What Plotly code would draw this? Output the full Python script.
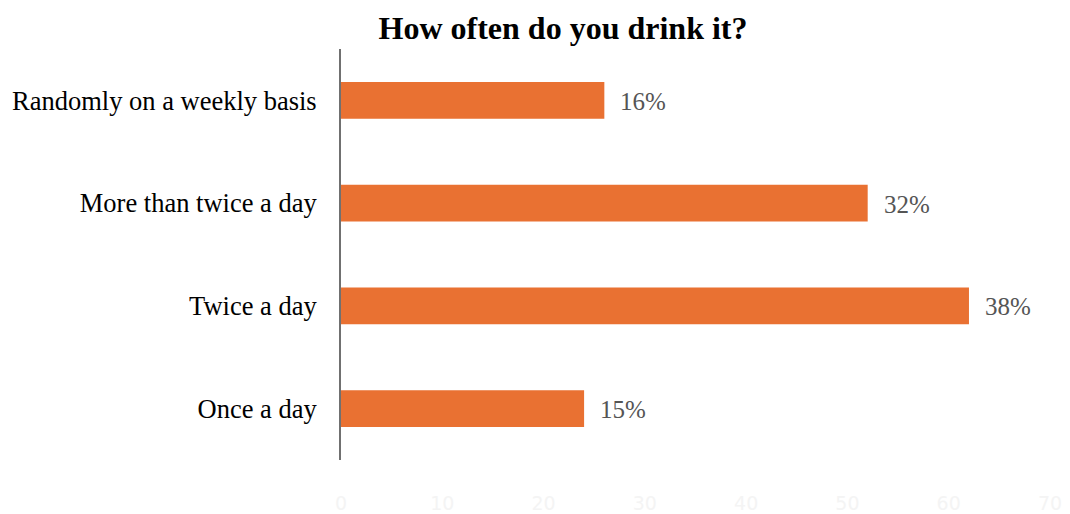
import plotly.graph_objects as go

# Survey answers (bottom to top as drawn) and respondent counts
categories = ["Once a day", "Twice a day", "More than twice a day", "Randomly on a weekly basis"]
counts = [24, 62, 52, 26]
x_ticks = [0, 10, 20, 30, 40, 50, 60, 70]

total = sum(counts)
pct_labels = [f"{round(c / total * 100)}%" for c in counts]

BAR_COLOR = "#E97132"
SERIF = "Liberation Serif, Times New Roman, serif"

fig = go.Figure(
    go.Bar(
        x=counts,
        y=categories,
        orientation="h",
        marker=dict(color=BAR_COLOR, line=dict(width=0)),
        width=0.36,
        hoverinfo="skip",
    )
)

# Percentage labels placed just past each bar end
for cat, c, lab in zip(categories, counts, pct_labels):
    fig.add_annotation(
        x=c, y=cat, xref="x", yref="y",
        text=lab, showarrow=False,
        xanchor="left", yanchor="middle", xshift=14, yshift=-1,
        font=dict(family=SERIF, size=25, color="#555555"),
    )

fig.update_layout(
    width=1070, height=514,
    margin=dict(l=341, r=20, t=49, b=54),
    paper_bgcolor="white", plot_bgcolor="white",
    showlegend=False,
    title=dict(
        text="<b>How often do you drink it?</b>",
        x=563 / 1070, xref="container", xanchor="center",
        y=1 - 28 / 514, yref="container", yanchor="middle",
        font=dict(family=SERIF, size=32, color="black"),
    ),
    xaxis=dict(
        range=[0, 70], tickvals=x_ticks, showgrid=False, zeroline=False,
        showline=False, ticks="", ticklabelstandoff=30, automargin=False,
        tickfont=dict(family="DejaVu Sans, sans-serif", size=19, color="#f4f4f4"),
        fixedrange=True,
    ),
    yaxis=dict(
        showgrid=False, zeroline=False, showline=True, automargin=False,
        linecolor="#707070", linewidth=2, ticks="",
        ticklabelstandoff=17,
        tickfont=dict(family=SERIF, size=26.5, color="black"),
        categoryorder="array", categoryarray=categories,
        fixedrange=True,
    ),
)

fig.write_html("out.html")
